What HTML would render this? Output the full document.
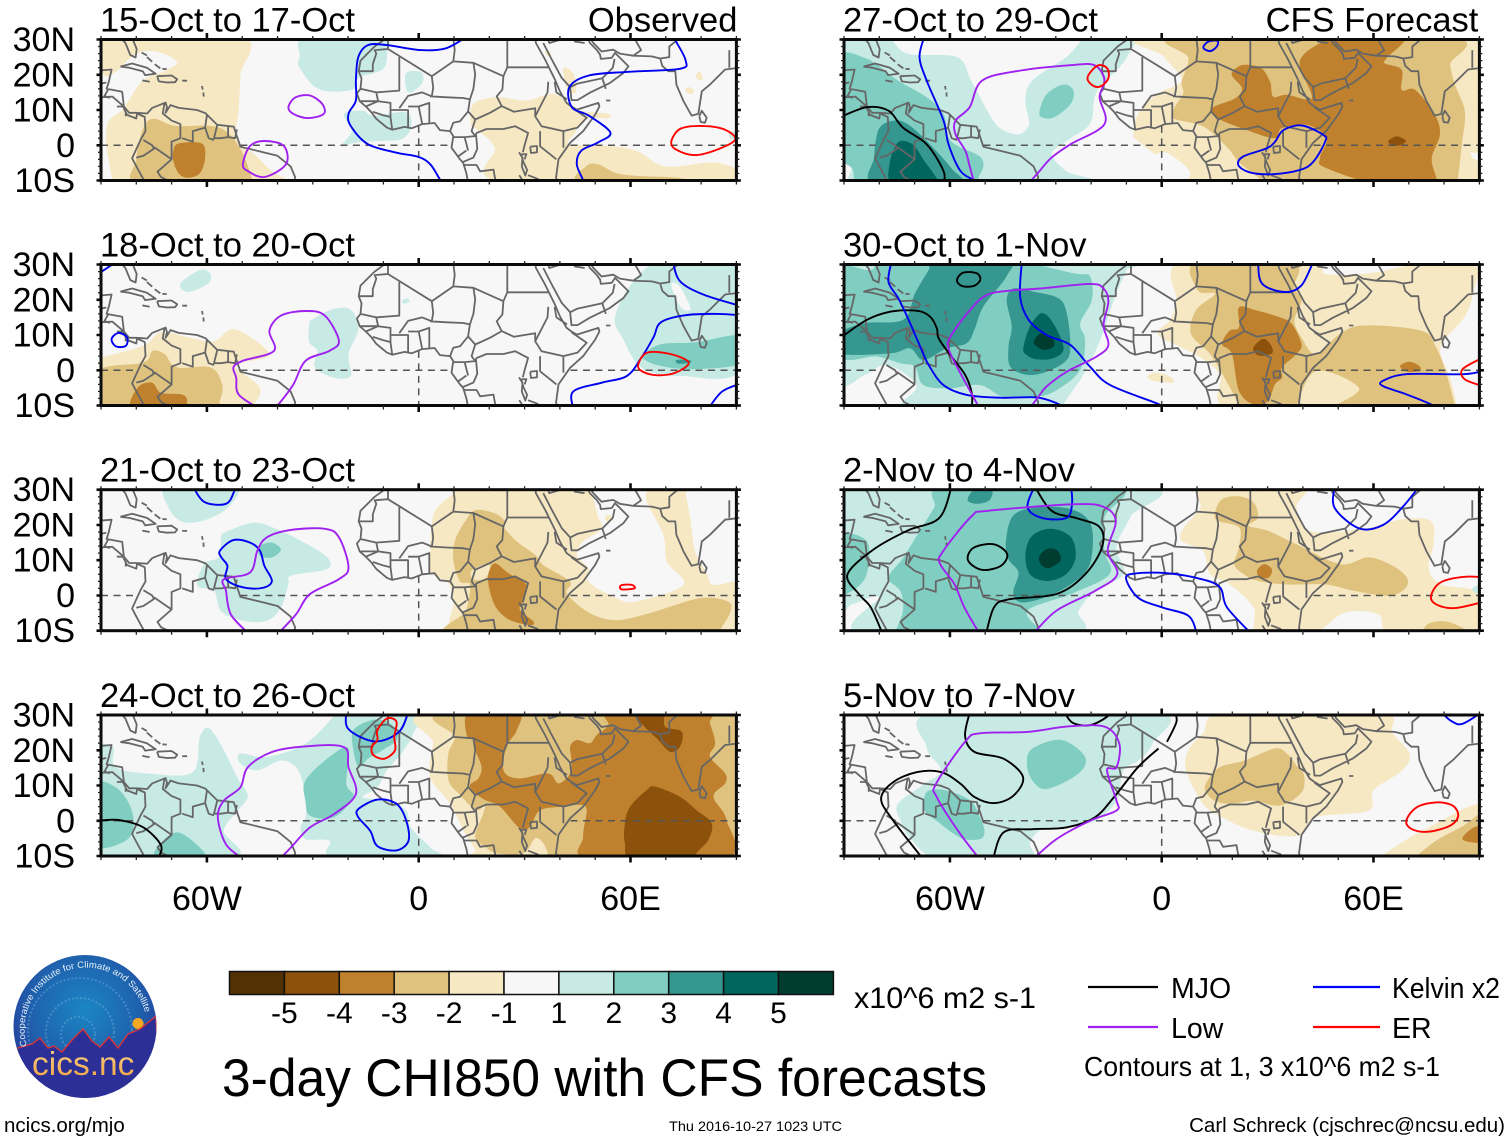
<!DOCTYPE html>
<html lang="en">
<head>
<meta charset="utf-8">
<title>3-day CHI850 with CFS forecasts</title>
<style>
html,body{margin:0;padding:0;background:#fff;width:1510px;height:1142px;overflow:hidden}
svg{display:block}
text{font-family:"Liberation Sans",sans-serif;fill:#000}
</style>
</head>
<body>
<svg id="chart" xmlns="http://www.w3.org/2000/svg" width="1510" height="1142" viewBox="0 0 1510 1142">
  <defs>
    <radialGradient id="logo-sky" cx="50%" cy="38%" r="62%">
      <stop offset="0" stop-color="#1b86c4"/>
      <stop offset=".6" stop-color="#1f62ad"/>
      <stop offset="1" stop-color="#28389a"/>
    </radialGradient>
    <linearGradient id="logo-text-fill" x1="0" y1="0" x2="0" y2="1">
      <stop offset="0" stop-color="#f8d48a"/>
      <stop offset="1" stop-color="#f0a040"/>
    </linearGradient>
    <clipPath id="logo-clip"><circle cx="85" cy="1026.5" r="71.5"/></clipPath>
    <path id="logo-arc" d="M 27 1046 A 61 61 0 1 1 145 1012"/>
  </defs>
  <g id="panels"></g>

  <g id="colorbar"></g>
  <text x="854" y="1008" font-size="30" textLength="182" lengthAdjust="spacingAndGlyphs">x10^6 m2 s-1</text>

  <text x="222" y="1096" font-size="53" textLength="765" lengthAdjust="spacingAndGlyphs">3-day CHI850 with CFS forecasts</text>

  <g>
    <line x1="1088" x2="1158" y1="987" y2="987" stroke="#000" stroke-width="2.2"/>
    <text x="1171" y="998" font-size="28.5">MJO</text>
    <line x1="1088" x2="1158" y1="1027" y2="1027" stroke="#a020f0" stroke-width="2.2"/>
    <text x="1171" y="1038" font-size="28.5">Low</text>
    <line x1="1313" x2="1380" y1="987" y2="987" stroke="#0000ff" stroke-width="2.2"/>
    <text x="1392" y="998" font-size="28.5" textLength="108" lengthAdjust="spacingAndGlyphs">Kelvin x2</text>
    <line x1="1313" x2="1380" y1="1027" y2="1027" stroke="#ff0000" stroke-width="2.2"/>
    <text x="1392" y="1038" font-size="28.5">ER</text>
    <text x="1084" y="1076" font-size="27.4" textLength="356" lengthAdjust="spacingAndGlyphs">Contours at 1, 3 x10^6 m2 s-1</text>
  </g>

  <text x="4" y="1132" font-size="20.5">ncics.org/mjo</text>
  <text x="669" y="1131" font-size="14" textLength="173" lengthAdjust="spacingAndGlyphs">Thu 2016-10-27 1023 UTC</text>
  <text x="1505" y="1132" font-size="20.5" text-anchor="end">Carl Schreck (cjschrec@ncsu.edu)</text>

  <g>
    <circle cx="85" cy="1026.5" r="71.5" fill="url(#logo-sky)"/>
    <g clip-path="url(#logo-clip)" fill="none" stroke="#6fb0dc" stroke-opacity=".45" stroke-dasharray="2 2" stroke-width="2">
      <circle cx="80" cy="1030" r="52"/>
      <circle cx="80" cy="1032" r="34"/>
      <circle cx="78" cy="1034" r="17"/>
    </g>
    <circle cx="138" cy="1023.5" r="5.5" fill="#f7a823"/>
    <path clip-path="url(#logo-clip)" d="M10 1050 L18 1048 L32 1044 L40 1038 L48 1048 L54 1046 L62 1052 L72 1040 L83 1029 L92 1041 L100 1047 L109 1037 L118 1048 L128 1034 L140 1029 L156 1016 L160 1100 L10 1100 Z" fill="#2c2f96" stroke="#d8343a" stroke-width="1.4"/>
    <text x="32" y="1075" font-size="33.5" style="fill:url(#logo-text-fill)">cics.nc</text>
    <text font-size="9" style="fill:#e8f0fa"><textPath href="#logo-arc" textLength="198" lengthAdjust="spacingAndGlyphs">Cooperative Institute for Climate and Satellites</textPath></text>
  </g>
</svg>

<script>
/* ---------- colour bins of the shading (BrBG) ---------- */
const binValues = [-5,-4,-3,-2,-1,0,1,2,3,4,5];
const binColors = ['#543005','#8c510a','#bf812d','#dfc27d','#f6e8c3','#f7f7f7','#c7eae5','#80cdc1','#35978f','#01665e','#003c30'];
const colorbarLabels = ['-5','-4','-3','-2','-1','1','2','3','4','5'];

/* ---------- axes ---------- */
const latTicks = [30,20,10,0,-10];
const latTickLabels = ['30N','20N','10N','0','10S'];
const lonTicks = [-60,0,60];
const lonTickLabels = ['60W','0','60E'];

/* ---------- panel titles ---------- */
const panelTitles = ['15-Oct to 17-Oct','18-Oct to 20-Oct','21-Oct to 23-Oct','24-Oct to 26-Oct','27-Oct to 29-Oct','30-Oct to 1-Nov','2-Nov to 4-Nov','5-Nov to 7-Nov'];
const panelSideTitles = ['Observed','','','','CFS Forecast','','',''];

/* ---------- geography (lon, lat) ---------- */
const coastlines = [
 [[-91,30],[-84,30],[-83.1,29],[-81.7,25.6],[-80.2,24.9],[-79.9,27.3],[-81.2,30.5]],
 [[-90.5,21.2],[-87,21.5],[-87.8,18],[-88.4,16],[-84,15.2],[-83.5,11],[-82,9.2],[-80,9.2],[-76.9,9],[-75.5,10.6],[-71.7,12.1],[-71.3,10.8],[-71.7,9.2],[-70.3,11.4],[-68,10.6],[-62.8,10],[-60.4,9.1],[-57.1,5.8],[-52.4,5.3],[-50.5,-.4],[-44.8,-1.8],[-40,-3],[-36.3,-6],[-35,-9],[-35.2,-10.5]],
 [[-90.5,13.6],[-86.8,13.8],[-84,11.4],[-82.6,8.6],[-80,7.6],[-79.8,9],[-77.6,8],[-77.4,4],[-78.8,1.5],[-81.2,-3.7],[-80.2,-5.6],[-78.4,-8.9],[-77.5,-10.5]],
 [[-84.5,22.3],[-81.2,23.2],[-77,22],[-74.5,20.3],[-77.5,19.9],[-78.2,21],[-82,22],[-84.5,22.3]],
 [[-74.1,19.6],[-70,19.8],[-68.4,18.7],[-69,17.9],[-71.3,17.8],[-73.6,18.1],[-74.1,19.6]],
 [[-78.3,18.4],[-76.2,18]],[[-67,18.3],[-65.6,18.3]],[[-78.5,26.3],[-77,25.5]],[[-77,25],[-75.5,23.7]],[[-74.8,23],[-73.2,21.8]],[[-72.6,21.7],[-71.4,21.6]],[[-61.4,16.8],[-61.2,15.8]],[[-61,15],[-60.9,13.8]],
 [[-9,30.5],[-12.5,28],[-16.5,24],[-17,21],[-16.2,19],[-16.5,16],[-17.5,14.7],[-16.7,12.5],[-15,11],[-13.5,9.5],[-12,7.5],[-9,5],[-7.5,4.4],[-4,5.2],[-2,4.8],[1,6],[4.5,6.3],[6,4.3],[8.9,4],[9.8,2.6],[9.3,-.7],[11.7,-4],[12.6,-5],[13.5,-8],[14,-10.5]],
 [[33,30.5],[33.2,29],[35.8,24.3],[38.6,18.6],[40,15.3],[41.9,12],[43.3,11],[44.8,10.1],[50.9,12],[51.2,11],[50,8.7],[46.6,4],[42.9,.7],[39.6,-4],[38.9,-9.2],[39.5,-10.5]],
 [[35.3,29],[37.7,24.3],[40.5,19.1],[42.9,16.5],[43.3,12.8],[45,12.8],[48.5,14.9],[54.2,17.7],[58,20.5],[59.4,22.4],[57,24.8],[55.6,26.2],[54.7,24.8],[51.6,24.5],[51.4,25.7],[50.4,27.1],[48.5,29],[47.8,30.5]],
 [[48.5,30.5],[49.5,29],[51.8,26.6],[55.1,27.1],[57,26],[60.8,25.4],[66,25.2],[68.4,24.6],[69,22.5],[70.7,21],[72.7,21],[73,17.2],[75,12.5],[77.3,8.4],[79.2,8.9],[80.2,15.3],[82.5,17.2],[86.8,21.5],[91,22]],
 [[79.5,8.2],[80.2,9.8],[81.6,7.8],[81.1,6.4],[79.9,6.6],[79.5,8.2]],
 [[53.1,12.7],[54.3,12.7]],
 [[31.6,-.4],[33.5,-.2],[33.5,-2],[31.8,-2.2],[31.6,-.4]],
 [[28.4,-2],[29.4,-3.6],[29.2,-6],[30.2,-8.6],[30.7,-7],[29.6,-4.6],[29,-2.4]]
];
const borders = [
 [[-72,12],[-72.5,9],[-70,7],[-67.5,6],[-67.5,2],[-70,1],[-70,-4],[-74,-7.5],[-73,-9],[-70,-10.5]],
 [[-67,2],[-64,1],[-64,4],[-60.5,5],[-60,8.5]],[[-57,6],[-58,2],[-56,2],[-54,2.3],[-54,5.5]],[[-54,2.3],[-52,2],[-51.5,4.5]],[[-60.5,5],[-59.5,2],[-58,1.5]],
 [[-80,-3.5],[-78,-3],[-75,-1],[-75.5,0],[-78,1.5]],[[-75,-0.5],[-70,-4]],[[-70,-10.5],[-65,-10],[-64,-11]],
 [[-83,9.6],[-83,8.2]],[[-85.5,11],[-83.7,11]],[[-88,15.8],[-89,14],[-87.5,13.4]],[[-90,17.5],[-88.5,17.8]],
 [[-8.7,27.3],[-5,25],[3.7,19.6],[9.8,23.8],[15.5,23.4],[24,19.6]],[[-8.7,27.3],[-12.5,27],[-12,26],[-13,23],[-13,21],[-17,21]],[[-8.7,27.3],[-8.7,30.5]],
 [[9.8,30.5],[10.2,27],[9.8,23.8]],[[25.1,30.5],[25.1,22.1]],[[25.1,22.1],[36.7,22.1]],[[25.1,22.1],[24,19.6]],
 [[-5.5,25],[-5.5,15.5],[-12,15]],[[3.7,19.6],[4.1,16.3],[3.7,13.9],[1,15],[-3,14],[-5.5,10.5]],[[3.2,13.9],[8,13.6],[12.6,13.4],[14.5,13]],
 [[15.5,23.4],[16,20.1],[15.5,16],[14.5,13],[14,9.6],[11.7,6.8],[9.8,6.4],[8.9,4]],[[24,19.6],[23.7,15.8],[22.1,13.9],[23.5,11.1]],[[14,9.6],[16,7.3],[20.2,9.2],[23.5,11.1]],[[16,7.3],[15,4],[16,2.6],[13,2.3],[9.8,2.3]],
 [[16.2,3.4],[19.2,4.6],[24,4.6],[27.3,5.4],[31,3.5],[30,0],[29.5,-2]],[[36.7,18],[36.5,15],[33,8.2],[34.8,5.4],[41,4],[41,-.7]],[[38.5,18],[39,15],[42,13]],
 [[23.5,11.1],[27,9.5],[33,10.5],[33,8.2]],[[34.4,4],[34.4,-.3],[39,-4]],[[43.3,10.8],[47.6,7.8],[45,5],[41,4]],
 [[16.2,3.4],[16.6,-1],[15.5,-3.5],[12.4,-4.8]],[[13.5,-1.5],[11,-3.3]],[[13,2.3],[14,-1.5]],[[12.6,-5.6],[16.4,-5.6],[17.4,-7.4],[21.2,-6.9],[21.6,-9.2],[22,-10.5]],[[28.8,-2.6],[30.5,-2.5],[30,-4]],[[31,-8.5],[33.6,-9.5],[34.8,-10.5]],[[29.8,-10.5],[28.5,-8.5]],
 [[-16.5,16],[-12,15],[-11.5,12.5],[-16.7,12.5]],[[-15,11],[-11.5,12.5],[-8,12],[-8,8],[-10,8.5],[-13,9.5]],[[-8,8],[-7.5,4.4]],[[-8,10],[-3,10],[-3,5]],[[-3,11],[0,11],[1,6]],[[0,11],[3,12],[3,6.3]],
 [[36.5,30.5],[37,29],[42,30.5]],[[44,29.5],[47,29]],[[55.5,24.5],[55,22],[52,19],[45,17.5],[43,16.5]],[[52,19],[53,16]],[[60.8,25.4],[63,27],[61,30.5]],[[68.4,24.6],[71,25],[71,28],[74,30.5]],[[88,27],[88,22]]
];

/* ---------- shading: [bin, outline in lon/lat] ---------- */
const shadingP1 = [
 [-1,[[-92,31],[-50.5,31],[-50.5,20],[-51,10],[-51.5,2],[-46,-3],[-42,-7],[-37,-10],[-36,-11],[-92,-11]]],
 [0,[[-92,18.5],[-88,19.5],[-85,21.5],[-80,26],[-74,26.5],[-68.5,23.6],[-72,21],[-78,18.5],[-82,13],[-84,10],[-88,6.5],[-88.5,0],[-87.5,-6],[-87,-12],[-92,-12]]],
 [-2,[[-78,5],[-75,7.5],[-69,5.5],[-59,5.5],[-54,3.5],[-50,-2],[-47,-10],[-47,-11],[-79,-11],[-80,-4]]],
 [-3,[[-69.5,-1.5],[-68,0.5],[-61.5,0.5],[-60.5,-3.5],[-62,-8],[-65.5,-9.2],[-68,-8],[-69.5,-4.5]]],
 [-1,[[14.8,6],[15.5,11.7],[22.3,13.6],[30.5,12.7],[38,14.6],[42.7,11.7],[46,9.8],[53.6,8.9],[53.6,7.7],[47.5,7.4],[44,3.1],[42.7,.3],[53.6,-.2],[61.8,-1.6],[70,-6],[84.9,-5],[90,-10.5],[23.7,-10.5],[21.6,-.7],[16.9,4.1]]],
 [-1,[[41,22],[44,20],[44.5,15],[42,16]]],
 [-1,[[79.5,21],[80.5,19],[79.5,18.5],[78.5,19.5]]],
 [-1,[[76.5,16.5],[78,15.5],[77,14.5],[75.5,15.5]]],
 [-1,[[36,27],[37.5,26],[37,25],[36,26]]],
 [-2,[[46,-10.5],[47.4,-6],[50.8,-5.4],[57.7,-8.3],[74,-9.3],[74,-11]]],
 [1,[[-32,31],[-10.3,31],[-9,25.8],[-10.3,21.5],[-17,19.1],[-17.8,16.2],[-23.9,15.2],[-29.4,16.6],[-33.9,22.3],[-33.7,25.1]]],
 [1,[[-3.5,20.5],[.5,20.8],[1.2,18],[-2,15],[-3.5,16]]],
 [1,[[-21.2,8.9],[-15.8,9.8],[-13,8.4],[-3.5,9.3],[-2.2,5],[-4.9,1.7],[-11.7,1.2],[-17.8,.8],[-21.9,-.2],[-19,4]]],
 [1,[[88,3.5],[91,4],[91,1.5],[88.5,1.8]]]
];
const shadingP2 = [
 [-1,[[-90,3.6],[-78,7],[-73,10.8],[-65,9.3],[-58,8.2],[-52.7,11.7],[-46,8.2],[-42.3,4.1],[-49.8,2.2],[-51.9,.8],[-45.7,-4],[-45,-6.9],[-47,-10.2],[-48,-12],[-92,-12],[-92,3]]],
 [-2,[[-91,-.2],[-78,2.2],[-75.4,5.5],[-72,4.6],[-68.5,.8],[-59,.8],[-55.7,-4],[-56.4,-8.8],[-59,-11],[-91,-11]]],
 [-3,[[-81,-11],[-79.7,-5],[-75.6,-3.5],[-73,-6.4],[-67,-6.9],[-65.6,-8.8],[-67.5,-11]]],
 [1,[[-67.5,24.6],[-62,28.4],[-59,27.4],[-59.6,24.6],[-65.4,22.2]]],
 [1,[[-30,14.5],[-24,17.4],[-19.2,17.1],[-17.1,11.7],[-19.9,4.6],[-19.2,-1.6],[-24,-2.1],[-29.4,.8],[-28.7,5.5],[-31,8],[-31,13]]],
 [1,[[-4.5,20],[-3,20.3],[-2.8,19.3],[-4.5,19]]],
 [1,[[69.3,31],[92,31],[92,.8],[74,-1.6],[63.1,.8],[57.7,9.3],[55.6,15],[60.4,24.6]]],
 [0,[[71.6,24.6],[74,23.7],[77,17.5],[74.6,17.5],[72.6,21]]],
 [2,[[63.8,4.6],[68.6,7.4],[78.1,7.9],[92,9.8],[92,2.2],[78.1,.3],[68.6,1.2],[63.8,3.1]]],
 [3,[[73,2.9],[76.5,2.9],[77,2.2],[73.5,1.9]]]
];
const shadingP3 = [
 [1,[[-71,31],[-52,31],[-54,25],[-60.8,21.3],[-67,20.9],[-71,25.2]]],
 [1,[[-54.6,18],[-47,20.6],[-41.6,19.4],[-33.5,15.6],[-26,10.9],[-26,7.5],[-36.2,5.6],[-36.9,3.2],[-39,-3.4],[-43,-7.2],[-49.8,-7.2],[-56,-4.4],[-58,1.3],[-62.7,2.8],[-60.7,9],[-56.6,10.9],[-56,16.5]]],
 [2,[[-45,14],[-41.6,15],[-39,13],[-41.6,10.8],[-45,11.2]]],
 [-1,[[10.3,31],[75,31],[75.6,29],[76.9,22],[78.3,12.5],[81.6,6.3],[83.5,3],[92,3],[92,-12],[9,-12],[8.4,-8.4],[9.8,-2],[8.4,3.4],[3.7,6.3],[3.2,10.5],[3.7,20],[5.1,24.7],[9.8,29]]],
 [0,[[50,32],[63.6,32],[64.6,26.6],[69.3,17.2],[70.3,9.6],[75,3],[61.8,-1.7],[56.1,-.8],[48.1,3.9],[48.1,7.7],[44.8,11.5],[46.6,15.3],[51.8,19],[50.4,23.8]]],
 [-1,[[53.5,23],[55,22],[54.5,21],[52.8,21.5]]],
 [-2,[[10.3,15.7],[13.1,20.9],[16,24.2],[21.6,23.3],[24.5,20.9],[24,19.5],[27.8,15.3],[33,11.5],[35.3,8.6],[42.9,3.9],[42,.5],[48.5,-5],[56,-7],[65.5,-5],[79.7,-.8],[87.7,-1.8],[88.2,-5],[85.4,-9.8],[85,-12],[11.7,-12],[13.6,-4.1],[14.5,3],[11.7,4],[9.8,10]]],
 [-1,[[15,7],[20,9],[19,5],[15.5,4.5]]],
 [-3,[[19.7,5.8],[21.6,9.1],[25.4,6.3],[30.6,3],[29.6,-1.3],[28.7,-4.1],[32.5,-7.4],[31.5,-8.4],[25.9,-7],[22.1,-3.7],[20.2,1.1]]]
];
const shadingP4 = [
 [1,[[-90.2,21.9],[-86.5,20.9],[-85.9,15.2],[-75.6,13.3],[-64,13.8],[-62,23.8],[-59.3,26.2],[-55.2,20],[-51.2,11.9],[-48.4,7.1],[-51.2,2.9],[-55.2,-2.9],[-52.5,-10.5],[-92,-11],[-92,22]]],
 [1,[[-50.5,19.1],[-43,18.1],[-32.1,21.9],[-24,29.8],[-24,31],[-.8,31],[-1.5,24.8],[-4.9,19.1],[-9,14.3],[-11.7,9.5],[-15.8,6.7],[-9,5.7],[-3.5,2.9],[-2.2,-1.9],[3.3,-7.6],[5.3,-10.5],[-24,-10.5],[-25.3,-5.7],[-32.1,-5.2],[-33.5,-1.9],[-32.1,1],[-32.1,6.7],[-34.1,14.3],[-38.9,17.1],[-45.7,14.3],[-50.5,16.2]]],
 [2,[[-32.1,11.4],[-25.3,18.1],[-19.9,20.5],[-20.5,10.5],[-18.5,6.7],[-24,1],[-30.7,1.4],[-32.1,5.7]]],
 [2,[[-92,10],[-85.2,9],[-81,1.9],[-82.4,-5.2],[-92,-6.7]]],
 [2,[[-72.9,-6.2],[-68.2,-3.3],[-62,-7.6],[-61.4,-10.5],[-74.3,-10.5]]],
 [2,[[-18.5,25.7],[-13,28.6],[-9,28.1],[-6.3,25.7],[-6.3,22.8],[-10.3,20],[-14.4,17.6],[-17,15.2],[-18.5,20]]],
 [-1,[[5.1,31],[92,31],[92,-12],[17.5,-12],[16,-8.3],[12.6,-2.6],[8.9,4.9],[3.2,12.5],[4.1,22]]],
 [-2,[[9.8,31],[92,31],[92,-12],[37,-12],[36.7,-9.7],[35.3,-6.4],[33,-5],[29.6,-9.2],[22.1,-9.2],[18.8,-7.4],[16,-4.5],[18.3,2.1],[18.8,4.9],[16.4,3],[11.2,7.8],[8.4,11.6],[8.4,19.1],[10.3,23.8]]],
 [-3,[[14.5,31],[28.2,31],[27.8,25.7],[25.4,22],[24,17.2],[24.5,13.4],[28.7,12],[36.7,13.4],[39.6,10.6],[42.9,13.4],[43.3,17.2],[42.9,21],[44.8,22.9],[48.5,22],[50.4,24.3],[53.7,27.1],[54.7,31],[81.1,31],[82.5,27.6],[84,22],[82.5,18.2],[86.8,13.4],[86.8,10.6],[83.5,6.8],[87.2,.2],[86.8,-11],[48.5,-11],[46.6,-4.5],[47.6,3.1],[45.7,4.5],[41,4],[34.4,3],[31.5,-1.7],[28.7,-2.2],[23,4],[18.8,5.9],[16,7.8],[14.5,10.1],[16.9,12],[17.8,15.3],[16,20.1],[15.5,23.4],[13.6,24.3]]],
 [-4,[[58.4,-.7],[59.9,4],[64.6,8.7],[67,9.7],[74,6.8],[78.7,3],[83,-.7],[82,-5.5],[78.7,-9.2],[78.7,-11],[60.8,-11],[58.4,-6.4]]],
 [-4,[[60.8,31],[68.8,31],[69.8,26.7],[74.5,25.3],[74,21],[71.2,19.6],[67.4,23.4],[63.6,27.1]]]
];
const shadingP5 = [
 [1,[[-92,31],[-78.6,31],[-72,26],[-58,25],[-54,18.4],[-49.4,9.8],[-46,5],[-40.6,3.1],[-37.6,6],[-38.6,12.7],[-36.6,18.4],[-27,25],[-20.4,31],[-8,31],[-9.4,25.8],[-12.8,21.2],[-16.9,17.4],[-19,13.5],[-20.4,6],[-27,1.2],[-31.2,-2.6],[-27,-7.4],[-21.7,-11],[-92,-11]]],
 [0,[[-91,-2],[-88,-5.5],[-89,-9.5],[-91,-10]]],
 [2,[[-92,24.1],[-83.7,24.6],[-74.8,18.4],[-66.6,13.6],[-61.8,8.9],[-59.7,1.2],[-51.2,-3.5],[-51.5,-8.3],[-56.2,-11],[-83.7,-11],[-87.8,-6.5],[-92,-.7]]],
 [2,[[-34.6,9.8],[-32.5,14.6],[-27.8,17.2],[-25,15.5],[-25.8,11.7],[-30.5,7.9],[-33.9,7.9]]],
 [3,[[-81.5,-3.5],[-80.1,4.6],[-76,7],[-72,6],[-66.6,1.2],[-59.7,-6.4],[-57.6,-11],[-81.5,-11]]],
 [4,[[-77.1,-5.4],[-74.7,.8],[-70.6,.3],[-67.2,-4.5],[-63.8,-9.3],[-63.8,-11],[-76,-11]]],
 [-1,[[-2,31],[90.5,31],[90.5,1],[87.5,-2.7],[90.5,-11],[7,-11],[4.2,-7.4],[-6.7,1.2],[-8,3.1],[-6.7,8.9],[-1.2,14.6],[5.6,18.4],[.8,25]]],
 [0,[[-.5,-2],[3,-3],[8,-7.5],[6,-10.5],[0,-11],[-3,-5]]],
 [-2,[[5.7,31],[7.6,24.7],[5.7,18],[6.1,14.7],[3.8,11],[3.3,7.7],[11.8,5.3],[18.4,-.4],[22.2,-5.1],[27.9,-9.6],[28.5,-12],[84,-12],[84,-9.4],[85,.1],[85.9,9.5],[83.1,17.1],[81.7,22.8],[80.7,31]]],
 [-3,[[44.9,29],[50,31],[68.5,31],[63.7,24.7],[63.3,23.2],[68,21.4],[68,15.7],[71.8,15.7],[77.4,8.6],[78.8,3],[76.5,-3.7],[77.9,-9.6],[78,-12],[64,-12],[46.7,-6.5],[44.8,-3.7],[46.7,2],[41,5.8],[34,4.8],[32.1,2],[24.1,4.3],[16,7.6],[14.2,10.5],[20.8,13.3],[22.7,16.2],[19.8,20],[21.7,22.3],[24.5,22.8],[28.3,21.8],[30.7,18],[31.6,13.8],[35.4,14.3],[42.5,13.3],[39.2,21.8],[40.1,25.6]]],
 [-4,[[64.2,1.2],[66.6,2.5],[69.2,1.2],[67,-.1],[65.1,.1]]]
];
const shadingP6 = [
 [1,[[-92,31],[-8,31],[-9.9,28.4],[-13.2,20.9],[-17.4,8.6],[-22.2,-1.3],[-27.8,-9.6],[-28,-12],[-73.5,-12],[-73.2,-8.9],[-69.4,-4.6],[-73.6,-.4],[-78.8,1.5],[-84,-1.3],[-92,-2.3]]],
 [2,[[-92,28],[-82.6,28.4],[-76.9,31],[-43.9,31],[-25,27.5],[-20.3,26.6],[-19.8,19.9],[-23.1,13.3],[-21.7,8.6],[-23.1,.1],[-29.7,-5.6],[-35.4,-7.5],[-44.8,-7.5],[-51.4,-4.2],[-59.9,-5.1],[-67.5,-4.2],[-69.9,1],[-74.1,2],[-80.7,3.9],[-92,4.8]]],
 [3,[[-92,10],[-84.5,13.3],[-73.2,14.3],[-69.9,21.8],[-66,28.4],[-64.2,31],[-43.9,31],[-44,26.6],[-50.5,18.1],[-52.9,11.9],[-55.2,7.7],[-60.9,6.2],[-67.5,2.9],[-71.3,6.2],[-76.9,4.8],[-92,4.8]]],
 [3,[[-43.9,19.9],[-42,23.2],[-36.3,22.3],[-29.2,20.4],[-26.9,16.2],[-25.9,7.7],[-26.9,2.9],[-32.6,-.4],[-38.2,-1.3],[-42.9,1],[-43.4,6.7],[-42.5,12.4]]],
 [4,[[-39.2,6.2],[-37.3,12.4],[-34,16.2],[-30.7,13.3],[-27.8,6.2],[-30.7,3.4],[-35.4,3.1],[-38.2,4.3]]],
 [5,[[-36.1,8.6],[-34,10.5],[-30.7,8.6],[-30.7,6.7],[-33.5,5.8],[-35.9,7.2]]],
 [-1,[[5.6,31],[42.3,31],[46.4,27.3],[60,27.7],[72.2,30],[88.5,30],[88.5,22.9],[85.8,15.2],[79,6.5],[81.7,-2],[83.7,-10.2],[83.7,-12],[22,-12],[16.4,-1.1],[10.2,4.1],[1.5,8.4],[-1.2,10.8],[2.2,14.1],[4.2,19.4]]],
 [-1,[[-4,-1.6],[-1.2,-.7],[2.9,-2.1],[2.9,-3.5],[-2.5,-3]]],
 [-2,[[10,31],[36.9,31],[37.6,23.6],[39.6,19.8],[37.6,14.1],[39.6,9.3],[43.7,4.6],[50.5,10.3],[57.3,12.7],[73.6,11.2],[77.7,6.5],[80.4,-.2],[83.1,-10.2],[83,-12],[48,-12],[49,-10.2],[55.9,-5],[43.7,-.2],[38.2,-10.2],[38,-12],[22,-12],[22,-10.2],[17.8,-2.1],[13.7,4.6],[8.3,10.3],[9.7,17],[15.1,21.7],[10.3,22.6]]],
 [-3,[[21.9,17.9],[26.7,17],[33.5,15],[36.9,13.1],[39.6,7.4],[38.2,4.6],[34.1,.8],[34.1,-2.1],[32.1,-4],[30,-8.8],[26,-9.7],[21.9,-5.9],[19.9,4.6],[17.1,7.4],[19.2,11.2],[21.9,12.2]]],
 [-4,[[26,6.5],[28.7,8.9],[30.8,7.4],[31.4,5],[28.7,4.1],[26.7,4.6]]],
 [-3,[[67.5,1.2],[70.2,2.4],[73,1.2],[73,-.2],[69.5,-.4]]]
];
const shadingP7 = [
 [1,[[-92,31],[-5.3,31],[-8.8,22.4],[-12.8,13.8],[-10.8,6.1],[-18.9,1.3],[-23.6,-4.4],[-26.4,-11],[-85,-11],[-80.2,-.6],[-87.6,-2.5],[-92,-3.4]]],
 [2,[[-60.4,31],[-12.8,31],[-16.2,22.1],[-16.2,12.6],[-14.8,6],[-25.7,.4],[-38,-4.3],[-33.9,-10.2],[-34,-11],[-75.4,-11],[-75.4,-10.2],[-73.3,-4.3],[-74,1.2],[-77.4,5],[-73.3,10.6],[-69.2,17.2],[-64.5,24.8]]],
 [2,[[-92,16.4],[-83.6,15.5],[-83.6,6],[-87.7,1.3],[-92,1.3]]],
 [3,[[-55,27],[-53,30],[-48.2,30],[-48.8,27],[-52.3,26]]],
 [3,[[-44.1,15.5],[-42,22.7],[-35.2,25],[-25.7,24.5],[-20.3,20.7],[-19.6,13.1],[-21.7,6.5],[-29.8,.8],[-39.3,-2],[-42,.8],[-40.6,6.5],[-43.4,10.3]]],
 [4,[[-38.6,11.8],[-36.6,17],[-31.2,18.9],[-25.7,16.5],[-24.4,10.8],[-27.1,6],[-32.5,4.1],[-37.3,6]]],
 [5,[[-34.8,10.8],[-32.5,13.2],[-29.5,12.7],[-28.7,9.9],[-31.8,7.8],[-33.9,8.5]]],
 [-1,[[11.7,31],[39.6,31],[38.2,25],[42.3,18.2],[57.3,19],[68.2,21.6],[76.3,21.1],[77,14.5],[75.6,8],[79,3.2],[90.6,.4],[90.6,-11],[65.4,-11],[61.4,-5.4],[51.8,-4.9],[42.3,-11],[27.3,-11],[26,-3.4],[19.2,3.2],[13.7,6],[11.7,12.6],[5.6,15.5],[6.3,19.3],[11,25]]],
 [-2,[[15.1,23.5],[17.1,27.3],[21.9,28.1],[26,26.4],[27.3,22.1],[24.6,19.8],[30,18.4],[38.2,14.5],[50.5,8.9],[58.6,10.8],[65.4,8.4],[69.5,5],[68.8,1.8],[64,-.1],[54.6,1.3],[46.4,3.1],[35.5,3.1],[27.3,4.1],[23.3,6],[20.5,8.9],[21.9,13.7],[21.9,19.3],[15.8,21.2]]],
 [-2,[[73.6,-10.5],[75.6,-8],[80.4,-7.4],[85.2,-9.2],[86,-11],[73,-11]]],
 [-3,[[27,7],[29,8.9],[31.2,7.5],[30.4,5.1],[28,5.1]]],
 [1,[[88,2],[90,3],[91,1],[89,.6]]]
];
const shadingP8 = [
 [1,[[-63.8,31],[-1.9,31],[-2.6,22],[-6.7,17],[-10.8,14.3],[-12.8,5.7],[-18.9,0],[-27,-1.9],[-33.9,-2.4],[-37.3,-6.2],[-38,-11],[-62.5,-11],[-70.6,-5.7],[-74,0],[-74.7,4.8],[-67.2,10.5],[-62.5,14.3],[-66.6,20.9]]],
 [2,[[-38.2,16.2],[-36.6,20.5],[-28.4,22.9],[-21.7,18.1],[-23.7,13.3],[-32.5,9],[-36.6,11.4]]],
 [2,[[-67.2,6.7],[-65.8,8.6],[-61,8.6],[-54.2,5.7],[-51.5,1],[-50.2,-2.9],[-51.5,-5.2],[-57,-4.8],[-63.8,0],[-67.2,2.9]]],
 [-1,[[18.5,31],[61.4,31],[65.4,24.8],[70.2,19],[68.2,14.3],[60,8.6],[58.6,2.9],[43.7,1],[39.6,-3.8],[33.5,-4.3],[24.6,-2.4],[17.1,1],[11.7,4.8],[6.9,14.3],[7.6,20],[11.7,24.8]]],
 [-2,[[13,11.4],[16.4,15.2],[23.2,17],[32,20.5],[35.5,19],[38.2,15.7],[40.3,12.9],[39.6,8],[33.5,4.3],[26,5.7],[19.9,4.8],[15,5.7],[12.3,8.6]]],
 [-1,[[61.4,-10.5],[73.6,-3],[92,4.8],[92,-11],[61,-11]]],
 [-2,[[71.6,-10.5],[77.7,-5.7],[84.5,-2],[92,2],[92,-11],[71,-11]]],
 [-3,[[85.2,-4.8],[88.6,-1.8],[92,-2],[92,-6],[87,-6]]]
];
const panelShading = [shadingP1,shadingP2,shadingP3,shadingP4,shadingP5,shadingP6,shadingP7,shadingP8];

/* ---------- contours: [wave type, closed?, line in lon/lat] ---------- */
const contoursP1 = [
 ['kelvin',0,[[12.1,29.8],[7.3,27.4],[.5,27],[-9,28.4],[-14.4,28.4],[-17.1,25],[-17.8,18.4],[-17.8,12.7],[-19.9,8.9],[-19.2,5.4],[-14.4,.3],[-6.3,-2.1],[-.1,-3.3],[3.3,-5.4],[6,-9.7],[7,-11]]],
 ['kelvin',0,[[72.7,29.8],[75.6,24.1],[74,21.7],[59,20.8],[48.2,19.8],[42.7,16.5],[43.4,10.8],[48.2,8.4],[54.3,3.6],[50.8,.8],[46,-1.6],[44.8,-5.4],[46.5,-9.7],[47,-11]]],
 ['low',1,[[-36.9,10.8],[-34.9,13.6],[-30.8,14.1],[-27.3,11.7],[-26.9,8.9],[-31.4,7.7],[-35.5,8.9]]],
 ['low',1,[[-49.8,-5.4],[-47.8,-.2],[-43.7,1.2],[-38.2,-.2],[-37.6,-5.4],[-43.7,-9],[-48.4,-7.3]]],
 ['er',1,[[71.6,1.2],[74,4.6],[79.5,5.5],[86.3,4.6],[89.7,1.7],[84.9,-1.1],[78.1,-2.8],[72.7,-1.1]]]
];
const contoursP2 = [
 ['kelvin',0,[[-91,27.2],[-88,29.2],[-86,30.5]]],
 ['kelvin',1,[[-87,8.9],[-85,10.6],[-82.6,9.3],[-83,6.9],[-85.8,6.8]]],
 ['kelvin',0,[[43.8,-11],[43.8,-6],[52,-3.5],[59,-1.6],[63.1,3.6],[66.5,9.3],[68.6,13.6],[75.4,15.6],[84.9,16],[92,15.5]]],
 ['kelvin',0,[[72,31],[74,25.3],[80.8,21.4],[92,18]]],
 ['kelvin',0,[[82,-11],[86,-6],[92,-3.5]]],
 ['low',0,[[-45,-11],[-51,-6.9],[-51.7,-2.1],[-52.5,.8],[-49.8,2.7],[-41,5.5],[-42.3,11.2],[-39,15.5],[-32,16.8],[-26.6,15.5],[-22.6,8.4],[-25.3,5.5],[-32,2.7],[-35.5,-4],[-39,-8.8],[-41,-11]]],
 ['er',1,[[62.2,1.7],[64.8,5],[71.3,4.6],[76.5,2.2],[72.7,-.7],[67.2,-1.4],[63.1,-.2]]]
];
const contoursP3 = [
 ['kelvin',0,[[-64,31],[-60.7,26.5],[-54.6,26],[-52.3,29.5],[-52,31]]],
 ['kelvin',1,[[-56.3,12.7],[-52.5,15.7],[-47.8,15],[-45,12.7],[-43.7,8.4],[-41.6,4.1],[-44.4,2.1],[-49.8,2.3],[-54.6,4.6],[-54.2,8.4],[-55.9,10.8]]],
 ['low',0,[[-48,-11],[-53.2,-5.4],[-54.6,1.3],[-55.2,4.6],[-47.8,6.5],[-45.7,12.7],[-43,16.5],[-36.2,18.6],[-26.6,18.9],[-22.6,16.5],[-19.9,8],[-22.6,4.6],[-30.8,.4],[-34.8,-5.4],[-40,-11]]],
 ['er',1,[[57,2.3],[57.7,3],[60.4,3],[61.1,2],[57.7,1.7]]]
];
const contoursP4 = [
 ['mjo',0,[[-91,0],[-85,.2],[-78,-1.9],[-73,-7],[-74,-11]]],
 ['low',0,[[-49.5,-11],[-54.6,-6.7],[-56.9,1],[-55.2,5.7],[-50.5,9.5],[-48.4,15.2],[-41.6,19.5],[-32.1,21.1],[-21.2,20.9],[-19.9,15.2],[-17.8,7.6],[-24,1.9],[-30.8,-1.9],[-36.2,-7.6],[-39.5,-11]]],
 ['kelvin',0,[[-20.5,31],[-19.9,26],[-12.4,22.5],[-5.6,25.2],[-2.9,31]]],
 ['kelvin',1,[[-17.1,3.3],[-11.7,6],[-6.3,4.8],[-3.5,0],[-2.9,-5.7],[-6.3,-8.4],[-11.7,-7.2],[-13.7,-2.9],[-17.1,1]]],
 ['er',1,[[-11.7,22.9],[-11.7,25.7],[-9,29],[-6.3,28.1],[-6.9,23.8],[-6.7,20],[-9.7,17.6],[-12.8,18.6],[-13.3,21]]]
];
const contoursP5 = [
 ['mjo',0,[[-91,8],[-83.5,10.8],[-77.4,9.8],[-73.3,5],[-66.6,.3],[-61.8,-7.3],[-61.8,-11]]],
 ['kelvin',0,[[-67.2,31],[-68.6,25],[-66.6,18.4],[-61.8,7],[-60.4,.3],[-57,-7.3],[-53,-10],[-52,-11]]],
 ['kelvin',1,[[11.8,27.7],[13.2,29.4],[15.8,29.6],[15.6,28],[13.7,26.7]]],
 ['kelvin',1,[[21.7,-5.6],[23.1,-3.2],[29.7,-.9],[32.1,1],[34.5,4.3],[39.7,5.6],[45.8,2.9],[46.3,1],[43,-4.6],[39.2,-7],[31.6,-8.2],[25,-7.7]]],
 ['low',0,[[-53,-11],[-54.4,-6],[-55.6,-1.6],[-58.4,3.1],[-58.4,7],[-54.4,10.8],[-50.8,18.4],[-39.9,21.2],[-25.9,22.7],[-19,22.7],[-16.2,18.4],[-17.6,13.6],[-16.2,6],[-25.8,.3],[-31.2,-3.5],[-34.6,-7.3],[-37.8,-11]]],
 ['er',1,[[-21,19.3],[-18.2,22.6],[-15.5,21.9],[-15.1,19],[-17.3,16.7],[-19.6,17]]]
];
const contoursP6 = [
 ['mjo',1,[[-58,25.6],[-56.2,27.7],[-52.4,27.5],[-51.4,25.6],[-53.3,23.9],[-56.6,23.9]]],
 ['mjo',0,[[-91,9.2],[-83.5,14.3],[-76.9,16.6],[-69.4,16.9],[-65.6,15.2],[-63.7,11.9],[-63.2,9.1],[-59.9,4.3],[-55.7,-1.3],[-53.8,-6.5],[-53.8,-11]]],
 ['kelvin',0,[[-76.5,31],[-77.4,25.1],[-74.6,20.4],[-71.7,14.3],[-68.4,6.7],[-66,1.5],[-61.8,-4.2],[-55.2,-7],[-45.8,-7.8],[-35.4,-7.7],[-29.7,-9.4],[-27,-11]]],
 ['kelvin',0,[[-39.6,31],[-40.1,20.9],[-37.7,14.3],[-32.6,10],[-25.9,7.2],[-20.3,1],[-14.6,-4.2],[-.9,-9.6],[1,-11]]],
 ['kelvin',0,[[27.3,31],[28.4,24.6],[34.8,22.2],[39.6,24.1],[43,31]]],
 ['kelvin',0,[[92,.2],[86,-1.1],[69.5,-1.1],[62.7,-3],[62.7,-4.5],[69.5,-6.9],[76.3,-9.7],[78,-11]]],
 ['low',0,[[-51.5,-11],[-58,1],[-60.4,6.2],[-59.9,9.5],[-54.3,17.1],[-49.5,21.4],[-42.9,22.6],[-34.4,23.2],[-20.3,24.5],[-16.5,23.2],[-15.1,19.5],[-16.5,12.8],[-15.1,7.2],[-18.4,3.9],[-26.9,-.4],[-32.6,-4.6],[-34.9,-7.5],[-37.5,-11]]],
 ['er',0,[[91,3.6],[85.2,.3],[85.9,-2.6],[91,-4.5]]]
];
const contoursP7 = [
 ['mjo',0,[[-59.5,31],[-63,22],[-72,18.4],[-81.4,13.2],[-89,6],[-85.8,.4],[-82.4,-3.4],[-79,-11]]],
 ['mjo',0,[[-49.8,-11],[-47.5,-3.4],[-43.4,-1.1],[-29.8,.4],[-21.7,6],[-16.9,13.7],[-17.6,19.4],[-24.4,22],[-31.2,24],[-36,31]]],
 ['mjo',1,[[-55,10.8],[-53,13.7],[-47.5,14.5],[-43.8,11.8],[-45.4,8.5],[-50.2,7.2],[-53.6,8.5]]],
 ['kelvin',0,[[-36,31],[-38,25],[-33.9,22],[-27,22],[-25.4,26],[-25.7,31]]],
 ['kelvin',0,[[10,-11],[7.6,-5.8],[.1,-3.4],[-6.7,-.6],[-10.1,5],[-6.7,6.3],[1.5,6.3],[11,4.7],[16.5,2.3],[18.5,-3.4],[25.5,-11]]],
 ['kelvin',0,[[49,31],[49,24.8],[56,19],[62.7,20],[68.2,25],[73,31]]],
 ['low',0,[[-51.5,-11],[-55.9,-3.4],[-58.7,3.2],[-62.8,9],[-62.1,12.3],[-53.9,22.4],[-49.2,24],[-24.4,25.9],[-16.2,25],[-13,21],[-15.3,12.7],[-12.6,6],[-18.9,1.3],[-29.8,-4.3],[-36.5,-11]]],
 ['er',0,[[92,5],[85.8,5.3],[79,3.7],[76.3,-.1],[77.7,-2.5],[83,-3.6],[92,-1.6]]]
];
const contoursP8 = [
 ['mjo',0,[[-54.3,31],[-55.7,24],[-53,19.5],[-44.8,17.6],[-39.3,12.4],[-42,7.1],[-47.5,5],[-53,6.7],[-57,10.5],[-62.5,13.8],[-69.3,13.8],[-76,11],[-79.5,6.2],[-76,0],[-67.5,-11]]],
 ['mjo',0,[[-27.7,31],[-25.2,27.8],[-20.3,27.1],[-15.5,29.5],[-15,31]]],
 ['mjo',0,[[-47.8,-11],[-44.8,-3.3],[-36.6,-2.4],[-27,-1.9],[-19,.9],[-13.5,6.7],[-6.7,15.2],[-.9,20.5]]],
 ['mjo',0,[[1.5,22.4],[4.2,28.1],[3.5,31]]],
 ['kelvin',0,[[79,31],[82,28.3],[85.2,27.5],[91,31]]],
 ['low',0,[[-51.5,-11],[-57.6,-3],[-63.7,6.7],[-63.9,10.5],[-55.7,22.4],[-51.5,24.8],[-38,25.2],[-27,26.7],[-16.2,26.7],[-12,21.9],[-12.8,15.2],[-15.5,14.3],[-12.8,5.7],[-12.8,2.9],[-20.3,0],[-29.8,-5.2],[-36.5,-11]]],
 ['er',1,[[69.3,0],[72.2,3.8],[77.7,5.2],[82.4,4.3],[84,1.4],[81.7,-1.4],[75.6,-3.1],[70.9,-2.4]]]
];
const panelContours = [contoursP1,contoursP2,contoursP3,contoursP4,contoursP5,contoursP6,contoursP7,contoursP8];

const waveColors = {mjo:'#000000',kelvin:'#0000f0',low:'#a020f0',er:'#ff0000'};

/* ---------- layout and axis functions ---------- */
const NS = 'http://www.w3.org/2000/svg';
const PX_PER_DEG = 3.53;
const PX_PER_LAT = 3.525;
const columnZero = [418.7, 1161.7];
const rowTop = [39.5, 264.5, 489.7, 715];

function xAxis(col, lon){ return columnZero[col] + lon * PX_PER_DEG; }
function yAxis(row, lat){ return rowTop[row] + (30 - lat) * PX_PER_LAT; }

function make(tag, attrs, parent){
  const el = document.createElementNS(NS, tag);
  for (const k in attrs) el.setAttribute(k, attrs[k]);
  parent.appendChild(el);
  return el;
}
function n(v){ return v.toFixed(1); }

/* smooth line through points via Catmull-Rom */
function smoothPath(points, closed){
  const m = points.length;
  const at = i => closed ? points[(i + m) % m] : points[Math.max(0, Math.min(m - 1, i))];
  let d = 'M' + n(points[0][0]) + ' ' + n(points[0][1]);
  const segs = closed ? m : m - 1;
  for (let i = 0; i < segs; i++){
    const p0 = at(i - 1), p1 = at(i), p2 = at(i + 1), p3 = at(i + 2);
    d += 'C' + n(p1[0] + (p2[0] - p0[0]) / 6) + ' ' + n(p1[1] + (p2[1] - p0[1]) / 6) + ' ' +
         n(p2[0] - (p3[0] - p1[0]) / 6) + ' ' + n(p2[1] - (p3[1] - p1[1]) / 6) + ' ' +
         n(p2[0]) + ' ' + n(p2[1]);
  }
  return d + (closed ? 'Z' : '');
}
function straightPath(points){
  return points.map((p, i) => (i ? 'L' : 'M') + n(p[0]) + ' ' + n(p[1])).join('');
}

const svg = document.getElementById('chart');
const panelsRoot = document.getElementById('panels');
const defs = svg.querySelector('defs');

panelTitles.forEach((title, idx) => {
  const col = idx < 4 ? 0 : 1;
  const row = idx % 4;
  const X = lon => xAxis(col, lon);
  const Y = lat => yAxis(row, lat);
  const project = pts => pts.map(p => [X(p[0]), Y(p[1])]);

  const g = make('g', {}, panelsRoot);
  
  

  const clip = make('clipPath', {id: 'clip-' + idx}, defs);
  make('rect', {x: X(-90), y: Y(30), width: X(90) - X(-90), height: Y(-10) - Y(30)}, clip);

  const body = make('g', {'clip-path': 'url(#clip-' + idx + ')'}, g);
  
  

  const bg = make('rect', {x: X(-90), y: Y(30), width: X(90) - X(-90), height: Y(-10) - Y(30), fill: binColors[binValues.indexOf(0)]}, body);
  
  

  panelShading[idx].forEach(shape => {
    const path = make('path', {d: smoothPath(project(shape[1]), true), fill: binColors[binValues.indexOf(shape[0])]}, body);
    
    
  });

  const coastD = coastlines.concat(borders).map(line => straightPath(project(line))).join('');
  const coast = make('path', {d: coastD, fill: 'none', stroke: '#666', 'stroke-width': 1.8, 'stroke-linejoin': 'round'}, body);
  
  

  const eqD = straightPath([[X(-90), Y(0)], [X(-80), Y(0)]]) + straightPath([[X(-50.5), Y(0)], [X(9), Y(0)]]) + straightPath([[X(43), Y(0)], [X(90), Y(0)]]);
  const equator = make('path', {d: eqD, fill: 'none', stroke: '#555', 'stroke-width': 1.5, 'stroke-dasharray': '7 5.5'}, body);
  
  
  const meridian = make('path', {d: straightPath([[X(0), Y(5.5)], [X(0), Y(-10)]]), fill: 'none', stroke: '#555', 'stroke-width': 1.5, 'stroke-dasharray': '7 5.5'}, body);
  
  

  panelContours[idx].forEach(c => {
    const path = make('path', {d: smoothPath(project(c[2]), !!c[1]), fill: 'none', stroke: waveColors[c[0]], 'stroke-width': 1.9, 'stroke-linejoin': 'round'}, body);
    
    
  });

  const frame = make('rect', {x: X(-90), y: Y(30), width: X(90) - X(-90), height: Y(-10) - Y(30), fill: 'none', stroke: '#0a0a0a', 'stroke-width': 3}, g);
  
  

  let minorD = '', majorD = '';
  for (let lon = -90; lon <= 90; lon += 10){
    if (lon % 60 === 0){
      majorD += 'M' + n(X(lon)) + ' ' + n(Y(-10)) + 'v6.5M' + n(X(lon)) + ' ' + n(Y(30)) + 'v-6.5';
    } else {
      minorD += 'M' + n(X(lon)) + ' ' + n(Y(-10)) + 'v4M' + n(X(lon)) + ' ' + n(Y(30)) + 'v-3.5';
    }
  }
  for (let lat = -10; lat <= 30; lat += 2){
    if (lat % 10 === 0){
      majorD += 'M' + n(X(-90)) + ' ' + n(Y(lat)) + 'h-4.5M' + n(X(90)) + ' ' + n(Y(lat)) + 'h4.5';
    } else {
      minorD += 'M' + n(X(-90)) + ' ' + n(Y(lat)) + 'h-3M' + n(X(90)) + ' ' + n(Y(lat)) + 'h3';
    }
  }
  const minorTicks = make('path', {d: minorD, fill: 'none', stroke: '#222', 'stroke-width': 1.3}, g);
  
  
  const majorTicks = make('path', {d: majorD, fill: 'none', stroke: '#0a0a0a', 'stroke-width': 2.6}, g);
  
  

  const t = make('text', {x: X(-90) - 1, y: Y(30) - 8, 'font-size': 34.5}, g);
  
  
  t.textContent = title;

  if (panelSideTitles[idx]){
    const s = make('text', {x: X(90) - (col ? 1 : -1), y: Y(30) - 8, 'font-size': 34.5, 'text-anchor': 'end'}, g);
    
    
    s.textContent = panelSideTitles[idx];
  }

  if (col === 0){
    latTicks.forEach((lat, i) => {
      const l = make('text', {x: 75, y: Y(lat) + 11.5, 'font-size': 34, 'text-anchor': 'end'}, g);
      
      
      l.textContent = latTickLabels[i];
    });
  }
  if (row === 3){
    lonTicks.forEach((lon, i) => {
      const l = make('text', {x: X(lon), y: 910, 'font-size': 34, 'text-anchor': 'middle'}, g);
      
      
      l.textContent = lonTickLabels[i];
    });
  }
});

/* ---------- colour bar ---------- */
const cb = document.getElementById('colorbar');
const cbLeft = 229.5, cbWidth = 54.9, cbTop = 971.5, cbHeight = 23;
binColors.forEach((color, i) => {
  const box = make('rect', {x: cbLeft + i * cbWidth, y: cbTop, width: cbWidth, height: cbHeight, fill: color, stroke: '#111', 'stroke-width': 1.5}, cb);
  
  
});
colorbarLabels.forEach((label, i) => {
  const t = make('text', {x: cbLeft + (i + 1) * cbWidth, y: 1023, 'font-size': 30, 'text-anchor': 'middle'}, cb);
  
  
  t.textContent = label;
});
</script>
</body>
</html>
